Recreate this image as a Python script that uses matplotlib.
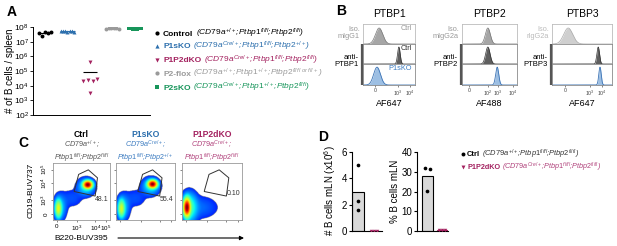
import numpy as np
import matplotlib
matplotlib.use('Agg')
import matplotlib.pyplot as plt
from matplotlib.patches import Polygon
from matplotlib.colors import ListedColormap

plt.rcParams['font.family'] = ['Liberation Sans', 'DejaVu Sans']
plt.rcParams['mathtext.fontset'] = 'custom'
plt.rcParams['mathtext.rm'] = 'Liberation Sans'
plt.rcParams['mathtext.it'] = 'Liberation Sans:italic'
plt.rcParams['mathtext.bf'] = 'Liberation Sans:bold'

W, H = 617, 246

# ---------------- data ----------------
# A: B cells per spleen
groups = ['Control', 'P1sKO', 'P1P2dKO', 'P2-flox', 'P2sKO']
control = [4.2e7, 2.4e7, 4.6e7, 3.8e7, 4.5e7]
p1sko = [5.5e7, 5.0e7, 5.2e7, 4.8e7, 5.4e7, 5.1e7, 4.9e7]
p1p2dko = [2.0e4, 4.0e5, 2.3e4, 3.0e3, 2.2e4, 2.8e4]
p2flox = [7.5e7, 8.5e7, 9.0e7, 8.0e7, 8.8e7, 7.8e7]
p2sko = [8.5e7, 9.0e7, 7.5e7, 7.0e7, 7.2e7, 8.0e7, 8.8e7]
geno_cd79 = ['+/+', 'Cre/+', 'Cre/+', '+/+', 'Cre/+']
geno_p1 = ['fl/fl', 'fl/fl', 'fl/fl', '+/+', '+/+']
geno_p2 = ['fl/fl', '+/+', 'fl/fl', r'fl/fl\ or\ fl/+', 'fl/fl']

# B: intracellular flow histograms (display-scale peak position / width)
b_titles = ['PTBP1', 'PTBP2', 'PTBP3']
b_xlabels = ['AF647', 'AF488', 'AF647']
b_iso = ['mIgG1', 'mIgG2a', 'rIgG2a']
iso_peak = [0.31, 0.47, 0.27]
iso_w = [0.07, 0.045, 0.075]
ctrl_peak = [0.69, 0.47, 0.77]
ctrl_w = [0.025, 0.04, 0.022]
ko_peak = [0.27, 0.64, 0.80]
ko_w = [0.065, 0.028, 0.02]
b_tick_pos = [[0.23, 0.67, 0.90], [0.13, 0.47, 0.65, 0.93], [0.22, 0.63, 0.83]]
b_tick_lab = [['0', '$10^3$', '$10^4$'], ['0', '$10^2$', '$10^3$', '$10^4$'],
              ['0', '$10^3$', '$10^4$']]

# C: CD19 vs B220 density (population centre x, y, spread x, y, weight)
c_names = ['Ctrl', 'P1sKO', 'P1P2dKO']
c_cd79 = ['+/+', 'Cre/+', 'Cre/+']
c_p2 = ['fl/fl', '+/+', 'fl/fl']
c_pct = ['48.1', '55.4', '0.10']
c_pops = [
    [(0.60, 0.62, 0.04, 0.035, 1.0), (0.57, 0.58, 0.08, 0.08, 0.03),
     (0.09, 0.20, 0.03, 0.08, 0.2), (0.12, 0.22, 0.06, 0.12, 0.02),
     (0.32, 0.38, 0.12, 0.10, 0.004)],
    [(0.62, 0.63, 0.04, 0.035, 1.0), (0.59, 0.59, 0.08, 0.08, 0.03),
     (0.09, 0.20, 0.03, 0.08, 0.17), (0.12, 0.22, 0.06, 0.12, 0.02),
     (0.32, 0.38, 0.12, 0.10, 0.004)],
    [(0.08, 0.22, 0.03, 0.08, 1.0), (0.12, 0.22, 0.07, 0.13, 0.06),
     (0.30, 0.22, 0.18, 0.12, 0.006)],
]
gate = [(0.37, 0.50), (0.45, 0.80), (0.62, 0.88), (0.78, 0.74), (0.74, 0.42)]

# D: mesenteric LN
d_count_ctrl = [5.0, 2.25, 1.6]
d_count_ko = [0.03, 0.03, 0.03]
d_pct_ctrl = [32.0, 20.4, 31.5]
d_pct_ko = [0.4, 0.4, 0.4]

# ---------------- style ----------------
colors = ['black', '#2c6fad', '#a3215f', '#9a9a9a', '#17955a']
markers = ['o', '^', 'v', 'o', 's']
flow_cmap = ListedColormap(plt.get_cmap('jet')(np.linspace(0.12, 1.0, 256)))

fig = plt.figure(figsize=(W / 100, H / 100), dpi=100)


def px_axes(x0, y0, x1, y1):
    return fig.add_axes([x0 / W, 1 - y1 / H, (x1 - x0) / W, (y1 - y0) / H])


def geno(a, b, c):
    return ("($\\mathit{CD79a}^{%s}$;$\\mathit{Ptbp1}^{%s}$;$\\mathit{Ptbp2}^{%s}$)"
            % (a, b, c))


# ---------------- A ----------------
axA = px_axes(33, 27, 150, 115)
axA.set_yscale('log')
vals = [control, p1sko, p1p2dko, p2flox, p2sko]
for i, v in enumerate(vals):
    offs = np.linspace(-0.28, 0.28, len(v))
    if groups[i] == 'P1P2dKO':
        offs = np.array([-0.3, 0, -0.07, 0, 0.15, 0.3])
    axA.scatter(i + offs, v, marker=markers[i], s=8, color=colors[i], lw=0, zorder=3)
    axA.hlines(np.mean(v), i - 0.33, i + 0.33, color='black' if i in (0, 2) else colors[i],
               lw=0.8, zorder=2)
axA.set_ylim(1e2, 1e8)
axA.set_xlim(-0.53, 4.67)
axA.set_yticks([10.0 ** k for k in range(2, 9)])
axA.set_yticklabels(['$10^{%d}$' % k for k in range(2, 9)], fontsize=6)
axA.minorticks_off()
axA.set_xticks([])
for s in ['top', 'right']:
    axA.spines[s].set_visible(False)
for s in ['left', 'bottom']:
    axA.spines[s].set_linewidth(0.7)
axA.tick_params(axis='y', length=2, width=0.6, pad=1)

# ---------------- B ----------------
b_boxes = [(363, 415), (462, 517), (552, 612)]
row_y = [24, 44, 64, 85]
xx = np.linspace(0, 1, 300)
for k in range(3):
    x0, x1 = b_boxes[k]
    rows = []
    for r in range(3):
        ax = px_axes(x0, row_y[r], x1, row_y[r + 1])
        ax.set_xlim(0, 1)
        ax.set_ylim(0, 1)
        ax.set_yticks([])
        ax.set_xticks([])
        for s in ax.spines.values():
            s.set_linewidth(0.6)
            s.set_color('#bbbbbb' if r == 0 else '#8a8a8a')
        rows.append(ax)
    iso_fc, iso_ec = ('#cfcfcf', '#aaaaaa') if k == 2 else ('#a6a6a6', '#777777')
    y = 0.8 * np.exp(-0.5 * ((xx - iso_peak[k]) / iso_w[k]) ** 2)
    rows[0].fill_between(xx, 0, y, color=iso_fc, lw=0)
    rows[0].plot(xx, y, color=iso_ec, lw=0.5)
    y = 0.85 * np.exp(-0.5 * ((xx - ctrl_peak[k]) / ctrl_w[k]) ** 2)
    rows[1].fill_between(xx, 0, y, color='#5f5f5f', lw=0)
    rows[1].plot(xx, y, color='#333333', lw=0.5)
    y = 0.85 * np.exp(-0.5 * ((xx - ko_peak[k]) / ko_w[k]) ** 2)
    rows[2].fill_between(xx, 0, y, color='#9dbfe3', lw=0)
    rows[2].plot(xx, y, color='#3b73b5', lw=0.6)
    rows[2].set_xticks(b_tick_pos[k])
    rows[2].set_xticklabels(b_tick_lab[k], fontsize=3.8, color='#444444')
    rows[2].tick_params(axis='x', length=1.5, width=0.5, pad=1, color='#555555')

# ---------------- C ----------------
c_boxes = [(53, 110), (116, 175), (182, 242)]
gx, gy = np.meshgrid(np.linspace(0, 1, 160), np.linspace(0, 1, 160))
for k in range(3):
    x0, x1 = c_boxes[k]
    ax = px_axes(x0, 163, x1, 220)
    d = np.zeros_like(gx)
    for cx, cy, sx, sy, w in c_pops[k]:
        d += w * np.exp(-0.5 * (((gx - cx) / sx) ** 2 + ((gy - cy) / sy) ** 2))
    d = d / d.max()
    c = np.ma.masked_where(d < 1.5e-3, d ** 0.3)
    ax.imshow(c, extent=(0, 1, 0, 1), origin='lower', cmap=flow_cmap, vmin=0.1, vmax=1,
              aspect='auto', interpolation='bilinear')
    ax.add_patch(Polygon(gate, closed=True, fill=False, ec='#333333', lw=0.7))
    ax.text(0.98, 0.36 if k < 2 else 0.47, c_pct[k], fontsize=5, ha='right', va='center',
            color='#333333')
    ax.set_xlim(0, 1)
    ax.set_ylim(0, 1)
    ax.set_xticks([0.07, 0.42, 0.74, 0.93])
    ax.set_yticks([0.10, 0.35, 0.65, 0.88])
    if k == 0:
        ax.set_xticklabels(['0', '$10^3$', '$10^4$', '$10^5$'], fontsize=4.5)
        ax.set_yticklabels(['0', '$10^3$', '$10^4$', '$10^5$'], fontsize=4.5,
                           rotation=90, va='center')
    else:
        ax.set_xticklabels([])
        ax.set_yticklabels([])
    ax.tick_params(length=1.5, width=0.5, pad=1.5, color='#555555')
    for s in ax.spines.values():
        s.set_linewidth(0.6)
        s.set_color('#999999')

# ---------------- D ----------------
axD1 = px_axes(352, 152, 382, 231)
axD2 = px_axes(417, 152, 448, 231)
for ax, ctrl, ko, top, w, xl in [(axD1, d_count_ctrl, d_count_ko, 6, 0.69, (-0.375, 1.5)),
                                 (axD2, d_pct_ctrl, d_pct_ko, 40, 0.76, (-0.72, 1.41))]:
    ax.bar([0], [np.mean(ctrl)], width=w, color='#d9d9d9', edgecolor='black', lw=0.8)
    ax.bar([1], [np.mean(ko)], width=w, color='#d9d9d9', edgecolor=colors[2], lw=0.8)
    offs = [0, 0, 0] if top == 6 else [-0.2, 0, 0.2]
    ax.scatter(np.array(offs), ctrl, s=7, color='black', lw=0, zorder=3)
    ax.scatter(1 + np.array([-0.2, 0, 0.2]), ko, s=6, marker='v', color=colors[2], lw=0,
               zorder=3)
    ax.set_ylim(0, top)
    ax.set_xlim(*xl)
    ax.set_xticks([])
    for s in ['top', 'right']:
        ax.spines[s].set_visible(False)
    for s in ['left', 'bottom']:
        ax.spines[s].set_linewidth(0.8)
    ax.tick_params(axis='y', labelsize=7, length=2.5, width=0.8, pad=1)
axD1.set_yticks([0, 2, 4, 6])
axD2.set_yticks([0, 10, 20, 30, 40])

# ---------------- overlay text (pixel coordinates) ----------------
ov = fig.add_axes([0, 0, 1, 1])
ov.set_xlim(0, W)
ov.set_ylim(H, 0)
ov.axis('off')
rend = fig.canvas.get_renderer()


def rich(x, y, parts, size, gap=2.5):
    for s, kw in parts:
        t = ov.text(x, y, s, fontsize=size, va='baseline', ha='left', **kw)
        bb = t.get_window_extent(rend)
        x = bb.x1 + gap


# panel letters
for lab, (x, y) in zip('ABCD', [(7, 12), (336, 11), (18, 143), (318, 137)]):
    ov.text(x, y, lab, fontsize=10, fontweight='bold', ha='left', va='center')

# A labels + legend
ov.text(10, 71, '# of B cells / spleen', rotation=90, fontsize=7, ha='center', va='center')
leg_y = [33, 46, 60, 73, 87]
for i in range(5):
    ov.scatter([157], [leg_y[i]], marker=markers[i], s=9, color=colors[i], lw=0)
    rich(163, leg_y[i] + 2.5,
         [(groups[i], dict(fontweight='bold', color=colors[i])),
          (geno(geno_cd79[i], geno_p1[i], geno_p2[i]), dict(style='italic', color=colors[i]))],
         6)

# B labels
for k in range(3):
    x0, x1 = b_boxes[k]
    xc = (x0 + x1) / 2
    ov.text(xc, 14, b_titles[k], fontsize=7.5, ha='center', va='center')
    ov.text(xc, 103, b_xlabels[k], fontsize=6.5, ha='center', va='center')
    ov.text(x0 - 3, 33, 'Iso.\n' + b_iso[k], fontsize=5.3, ha='right', va='center',
            color='#bbbbbb' if k == 2 else '#999999', linespacing=1.0)
    ov.text(x0 - 4, 61, 'anti-\n' + b_titles[k], fontsize=5.5, ha='right', va='center',
            linespacing=1.0)
    ov.plot([x0 - 1.5, x0 - 1.5], [44, 85], color='#555555', lw=1.6,
            solid_capstyle='butt')
ov.text(412, 29, 'Ctrl', fontsize=5.3, ha='right', va='center', color='#999999')
ov.text(412, 49, 'Ctrl', fontsize=5.3, ha='right', va='center', color='#333333')
ov.text(412, 69, 'P1sKO', fontsize=5.3, ha='right', va='center', color='#3b7bc0')

# C labels
title_cols = ['black', '#2c6fad', '#a3215f']
sub_cols = ['#555555', '#3b7bc0', '#b0407a']
for k in range(3):
    x0, x1 = c_boxes[k]
    xc = (x0 + x1) / 2
    ov.text(xc, 137, c_names[k], fontsize=6.2, fontweight='bold', ha='center',
            va='baseline', color=title_cols[k])
    ov.text(xc, 148, '$\\mathit{CD79a}^{%s}$;' % c_cd79[k], fontsize=5.2, style='italic',
            ha='center', va='baseline', color=sub_cols[k])
    ov.text(xc, 160.3, '$\\mathit{Ptbp1}^{fl/fl}$;$\\mathit{Ptbp2}^{%s}$' % c_p2[k],
            fontsize=5.2, style='italic', ha='center', va='baseline', color=sub_cols[k])
ov.text(31, 190, 'CD19-BUV737', rotation=90, fontsize=6, ha='center', va='center')
ov.text(81, 238, 'B220-BUV395', fontsize=6, ha='center', va='center')
ov.annotate('', xy=(244, 238), xytext=(118, 238),
            arrowprops=dict(arrowstyle='-|>', color='black', lw=0.8,
                            mutation_scale=6, shrinkA=0, shrinkB=0))

# D labels + legend
ov.text(330, 191, '# B cells mLN (x10$^6$)', rotation=90, fontsize=7, ha='center',
        va='center')
ov.text(395, 191, '% B cells mLN', rotation=90, fontsize=7, ha='center', va='center')
ov.scatter([463], [154], marker='o', s=8, color='black', lw=0)
rich(467, 156.5, [('Ctrl', dict(fontweight='bold', color='black')),
                  (geno('+/+', 'fl/fl', 'fl/fl'), dict(style='italic', color='#333333'))],
     5.4, gap=2)
ov.scatter([463], [166.5], marker='v', s=8, color=colors[2], lw=0)
rich(467, 169, [('P1P2dKO', dict(fontweight='bold', color=colors[2])),
                (geno('Cre/+', 'fl/fl', 'fl/fl'), dict(style='italic', color='#b0407a'))],
     5.2, gap=2)

fig.savefig('out.png', dpi=100)
